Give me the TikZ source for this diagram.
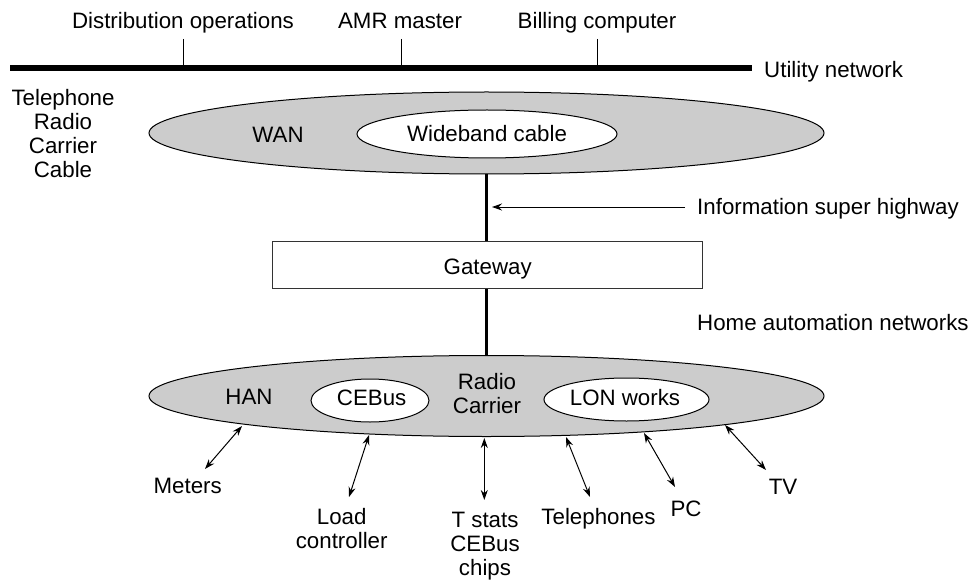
\documentclass[tikz,border=0pt]{standalone}
\usepackage{fontspec}
\setmainfont{Liberation Sans}
\usetikzlibrary{shapes.geometric,arrows.meta}
\begin{document}
\begin{tikzpicture}[x=1pt,y=-1pt,
  txt/.style={inner sep=0pt, font=\fontsize{22.3}{24}\selectfont, text height=16pt, text depth=4.6pt},
  mtxt/.style={inner sep=0pt, font=\fontsize{22.3}{24}\selectfont, align=center},
  outer/.style={ellipse, draw=black, line width=1pt, fill=black!20, inner sep=0pt},
  inner/.style={ellipse, draw=black, line width=1pt, fill=white, inner sep=0pt},
  spine/.style={line width=3pt},
  tick/.style={line width=1pt},
  dbl/.style={line width=1pt, {Stealth[length=10pt,width=7pt]}-{Stealth[length=10pt,width=7pt]}},
  sgl/.style={line width=1pt, -{Stealth[length=10pt,width=7pt]}}]
\useasboundingbox (0,0) rectangle (979,580);

% utility network bus with its three stations
\coordinate (busL) at (10,68.5);
\coordinate (busR) at (752,68.5);
\draw[line width=6pt] (busL) -- (busR);
\node[txt, anchor=west] (util) at (764,72) {Utility network};
\node[txt] (dist) at (183,22.8) {Distribution operations};
\node[txt] (amr) at (400,22.8) {AMR master};
\node[txt] (bill) at (597,22.8) {Billing computer};
\draw[tick] (183,39) -- (183,68);
\draw[tick] (401,39) -- (401,68);
\draw[tick] (597,39) -- (597,68);

% wide area network
\node[mtxt] (media) at (63,134) {Telephone\\Radio\\Carrier\\Cable};
\node[outer, minimum width=675pt, minimum height=82pt] (wan) at (486.5,133) {};
\node[inner, minimum width=260pt, minimum height=48pt] (wide) at (487,134) {};
\node[txt] (wanl) at (278,137) {WAN};
\node[txt] at (wide.center) [yshift=-2pt] (widel) {Wideband cable};

% gateway between the two levels
\node[draw=black!80, line width=1pt, minimum width=430pt, minimum height=46.6pt, inner sep=0pt] (gw) at (487.7,265) {};
\node[txt] (gwl) at (487.7,268.8) {Gateway};

% home area network
\node[outer, minimum width=675pt, minimum height=81pt] (han) at (486.5,396) {};
\node[inner, minimum width=118pt, minimum height=43pt] (ceb) at (370,400.5) {};
\node[inner, minimum width=165pt, minimum height=43pt] (lon) at (626.5,399.5) {};
\node[txt] (hanl) at (249,399) {HAN};
\node[txt] (cebl) at (371.6,400) {CEBus};
\node[txt] (lonl) at (625,400) {LON works};
\node[mtxt] (radio) at (487,394) {Radio\\Carrier};

% backbone
\draw[spine] (wan.south) -- (wan.south |- gw.north);
\draw[spine] (wan.south |- gw.south) -- (wan.south |- han.north);

\node[txt, anchor=west] (info) at (697,209) {Information super highway};
\node[txt, anchor=west] (home) at (697,325) {Home automation networks};
\coordinate (infoA) at (685,207);
\coordinate (infoB) at (492,207);
\draw[sgl] (infoA) -- (infoB);

% devices on the home network
\node[txt] (meters) at (187.7,488) {Meters};
\node[mtxt] (load) at (341.7,529) {Load\\controller};
\node[mtxt] (tstat) at (485,546) {T stats\\CEBus\\chips};
\node[txt] (tel) at (598.5,519) {Telephones};
\node[txt] (pc) at (686,511) {PC};
\node[txt] (tv) at (783,489) {TV};

\coordinate (m1) at (242,426);   \coordinate (m2) at (205,469);
\coordinate (l1) at (369,435);   \coordinate (l2) at (349,497);
\coordinate (t1) at (484.3,438); \coordinate (t2) at (484.3,500);
\coordinate (p1) at (566,437);   \coordinate (p2) at (590,497);
\coordinate (c1) at (644,433);   \coordinate (c2) at (675,487);
\coordinate (v1) at (725,425);   \coordinate (v2) at (766,470);
\draw[dbl] (m1) -- (m2);
\draw[dbl] (l1) -- (l2);
\draw[dbl] (t1) -- (t2);
\draw[dbl] (p1) -- (p2);
\draw[dbl] (c1) -- (c2);
\draw[dbl] (v1) -- (v2);
\end{tikzpicture}
\end{document}
